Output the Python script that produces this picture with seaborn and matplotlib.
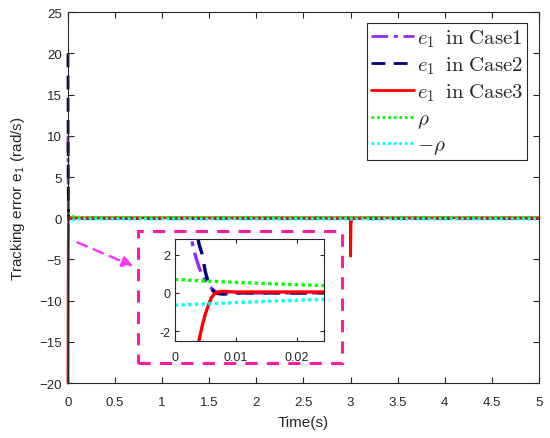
import numpy as np
import pandas as pd
import matplotlib
matplotlib.use("Agg")
import matplotlib.pyplot as plt
from matplotlib.patches import Rectangle, FancyArrowPatch
import seaborn as sns

# time samples (s) for the three cases
t_case = [0, 0.0005, 0.001, 0.0015, 0.002, 0.0025, 0.003, 0.0035, 0.004, 0.0045,
          0.005, 0.0055, 0.006, 0.0065, 0.007, 0.0075, 0.008, 0.0085, 0.009, 0.01,
          0.015, 0.025, 3.0, 3.0002, 3.005, 3.02, 5.0]
e1_case1 = [10, 8.2, 6.6, 5.2, 4.0, 3.1, 2.4, 1.8, 1.3, 0.95,
            0.65, 0.42, 0.25, 0.1, 0.02, 0, 0, 0, 0, 0,
            0, 0, 0, 0, 0, 0, 0]
e1_case2 = [20, 16.5, 13.2, 10.4, 8.0, 6.1, 4.5, 3.3, 2.5, 2.0,
            1.1, 0.55, 0.2, 0.05, -0.02, -0.05, -0.06, -0.05, -0.03, 0,
            0, 0, 0, 0, 0, 0, 0]
e1_case3 = [-20, -16.5, -13.2, -10.4, -8.0, -6.1, -4.6, -3.4, -2.4, -1.7,
            -1.1, -0.65, -0.25, -0.05, 0.04, 0.07, 0.08, 0.07, 0.06, 0.05,
            0.05, 0.05, 0.05, -4.6, -0.5, 0.05, 0.05]

# prescribed performance bound
t_rho = [0, 0.005, 0.01, 0.015, 0.02, 0.025, 0.04, 0.06, 0.1, 0.2, 5.0]
rho_pos = [0.7, 0.62, 0.55, 0.49, 0.43, 0.38, 0.28, 0.2, 0.14, 0.11, 0.1]
rho_neg = [-0.64, -0.57, -0.5, -0.44, -0.38, -0.33, -0.25, -0.18, -0.13, -0.11, -0.1]

x_ticks = [0, 0.5, 1, 1.5, 2, 2.5, 3, 3.5, 4, 4.5, 5]
y_ticks = [-20, -15, -10, -5, 0, 5, 10, 15, 20, 25]

sns.set_style("ticks")
plt.rcParams["font.family"] = ["Liberation Sans", "DejaVu Sans"]
plt.rcParams["mathtext.fontset"] = "cm"

series = [
    (t_case, e1_case1, "#8F2BFF", (0, (6, 2, 1.5, 2)), r"$e_1\;\;\mathrm{in\ Case1}$"),
    (t_case, e1_case2, "#00007A", (0, (5, 3)), r"$e_1\;\;\mathrm{in\ Case2}$"),
    (t_case, e1_case3, "#FF0000", "-", r"$e_1\;\;\mathrm{in\ Case3}$"),
    (t_rho, rho_pos, "#00FF00", (0, (1, 1)), r"$\rho$"),
    (t_rho, rho_neg, "#00FFFF", (0, (1, 1)), r"$-\rho$"),
]

fig = plt.figure(figsize=(5.5, 4.39), dpi=100)
ax = fig.add_axes([0.1236, 0.125, 0.8564, 0.845])

def draw(a, lw, labels=True, clip=True):
    for t, v, c, ls, lab in series:
        sns.lineplot(x=t, y=v, ax=a, color=c, linestyle=ls, lw=lw,
                     estimator=None, sort=False, clip_on=clip,
                     label=lab if labels else None)

draw(ax, 2.0, clip=False)
ax.set_xlim(0, 5)
ax.set_ylim(-20, 25)
ax.set_xticks(x_ticks)
ax.set_xticklabels([f"{v:g}" for v in x_ticks])
ax.set_yticks(y_ticks)
ax.tick_params(direction="in", top=True, right=True, labelsize=9.5, length=4,
               colors="#262626")
ax.tick_params(axis="x", pad=9)
ax.tick_params(axis="y", pad=4.5)
for s in ax.spines.values():
    s.set_color("#262626")
    s.set_linewidth(0.8)
ax.set_xlabel("Time(s)", fontsize=11, color="#262626", labelpad=5)
ax.set_ylabel(r"Tracking error e$_\mathregular{1}$ (rad/s)", fontsize=11,
              color="#262626", labelpad=9)

leg = ax.legend(loc="upper right", bbox_to_anchor=(0.9745, 0.9704), fontsize=15,
                handlelength=2.1, handletextpad=0.1, labelspacing=0.27,
                borderpad=0.2, borderaxespad=0.0, fancybox=False,
                framealpha=1, edgecolor="#262626")
leg.get_frame().set_linewidth(0.8)

# zoom box and arrow
ax.add_patch(Rectangle((0.743, -17.6), 2.167, 16.0, fill=False, ec="#FF1AA0",
                       lw=2.2, ls=(0, (4, 3)), zorder=5))
ax.add_patch(FancyArrowPatch((0.074, -2.8), (0.72, -5.95), arrowstyle="-|>",
                             mutation_scale=16, color="#FF33FF", lw=1.8,
                             ls=(0, (4, 3)), zorder=5))

# inset
ins = fig.add_axes([0.318, 0.221, 0.271, 0.232])
draw(ins, 2.4, labels=False)
ins.set_xlim(0, 0.0245)
ins.set_ylim(-2.5, 2.8)
ins.set_xticks([0, 0.01, 0.02])
ins.set_xticklabels(["0", "0.01", "0.02"])
ins.set_yticks([-2, 0, 2])
ins.set_yticklabels(["-2", "0", "2"])
ins.tick_params(direction="in", top=True, right=True, labelsize=9, length=3,
                colors="#262626")
ins.tick_params(axis="x", pad=7)
for s in ins.spines.values():
    s.set_color("#262626")
    s.set_linewidth(0.8)
ins.set_xlabel("")
ins.set_ylabel("")

fig.savefig("out.png", dpi=100)
